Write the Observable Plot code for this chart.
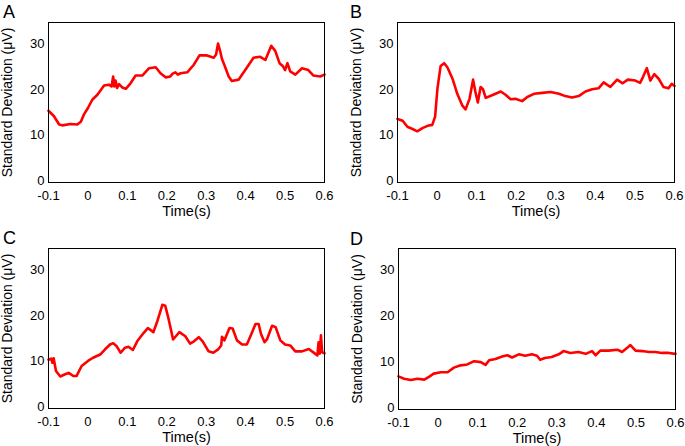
<!DOCTYPE html>
<html>
<head>
<meta charset="utf-8">
<script src="https://cdn.jsdelivr.net/npm/d3@7"></script>
<script src="https://cdn.jsdelivr.net/npm/@observablehq/plot@0.6"></script>
<style>
  html, body { margin: 0; padding: 0; background: #fff; }
  #wrap { position: relative; width: 685px; height: 446px; font-family: "Liberation Sans", Arial, sans-serif; }
  .panel { position: absolute; }
  .letter { position: absolute; font-size: 18px; line-height: 1; color: #000; }
  .panel svg g[aria-label="x-axis label"] { font-size: 14.5px; }
  .panel svg g[aria-label="y-axis label"] { font-size: 14px; }
</style>
</head>
<body>
<div id="wrap"></div>
<script>
// ---- data ----
const panelLetters = ["A", "B", "C", "D"];
const xTicks = [-0.1, 0, 0.1, 0.2, 0.3, 0.4, 0.5, 0.6];
const xTickLabels = ["-0.1", "0", "0.1", "0.2", "0.3", "0.4", "0.5", "0.6"];
const yTicks = [0, 10, 20, 30];
const yTickLabels = ["0", "10", "20", "30"];
const xLabel = "Time(s)";
const yLabel = "Standard Deviation (\u03bcV)";

const timeA = [-0.1,-0.086,-0.073,-0.065,-0.044,-0.027,-0.018,-0.01,0,0.011,0.024,0.041,0.053,0.06,0.064,0.067,0.07,0.074,0.079,0.087,0.096,0.108,0.121,0.138,0.155,0.172,0.184,0.197,0.209,0.215,0.222,0.228,0.235,0.252,0.268,0.283,0.302,0.319,0.325,0.33,0.336,0.34,0.346,0.357,0.365,0.382,0.399,0.42,0.437,0.45,0.465,0.475,0.486,0.494,0.5,0.506,0.513,0.526,0.543,0.559,0.572,0.589,0.6];
const sdA = [15.7,14.5,12.7,12.5,12.8,12.7,13.3,14.9,16.3,18.1,19.2,21.2,21.4,21.0,23.2,21.0,22.3,20.7,21.5,20.8,20.5,21.7,23.4,23.4,25.0,25.2,23.9,23.0,23.2,23.8,24.1,23.6,23.9,24.1,25.7,27.8,27.8,27.3,28.0,30.4,28.5,27.0,25.7,23.2,22.2,22.5,24.6,27.3,27.5,26.8,29.9,28.8,26.1,25.5,24.6,26.1,24.3,23.6,25.0,24.6,23.4,23.2,23.6];

const timeB = [-0.1,-0.087,-0.075,-0.062,-0.05,-0.037,-0.024,-0.012,-0.005,0.001,0.009,0.018,0.026,0.039,0.051,0.064,0.072,0.082,0.091,0.097,0.103,0.11,0.116,0.123,0.139,0.161,0.173,0.186,0.198,0.215,0.228,0.245,0.266,0.287,0.308,0.324,0.341,0.358,0.375,0.392,0.408,0.421,0.438,0.455,0.469,0.482,0.501,0.513,0.52,0.53,0.539,0.549,0.56,0.572,0.585,0.593,0.6];
const sdB = [13.9,13.5,12.2,11.7,11.2,11.9,12.4,12.6,14.4,20.6,25.5,26.1,25.2,22.7,19.4,16.8,16.0,18.3,22.5,19.8,17.5,20.9,20.4,18.5,19.1,19.9,19.2,18.2,18.3,17.8,18.7,19.4,19.6,19.8,19.4,18.9,18.6,18.9,19.9,20.4,20.6,21.9,20.9,22.5,21.7,22.5,22.3,21.8,23.0,25.0,22.3,23.7,22.7,20.9,20.6,21.6,21.1];

const timeC = [-0.1,-0.093,-0.09,-0.087,-0.081,-0.07,-0.058,-0.049,-0.037,-0.029,-0.016,0,0.013,0.031,0.043,0.056,0.064,0.073,0.083,0.094,0.103,0.114,0.125,0.141,0.152,0.166,0.176,0.189,0.196,0.204,0.216,0.223,0.232,0.247,0.259,0.269,0.281,0.291,0.306,0.318,0.331,0.338,0.34,0.346,0.359,0.367,0.378,0.391,0.403,0.414,0.425,0.433,0.439,0.448,0.454,0.467,0.476,0.488,0.5,0.513,0.526,0.543,0.56,0.576,0.582,0.585,0.588,0.591,0.594,0.6];
const sdC = [10.7,10.9,10.0,11.0,8.2,7.0,7.5,7.8,7.1,7.1,9.3,10.4,11.1,11.8,12.9,14.0,14.3,13.6,12.2,13.3,13.5,12.8,14.7,16.5,17.6,16.7,19.1,22.7,22.5,19.8,15.1,15.8,16.7,15.8,14.2,14.7,15.6,14.7,12.5,12.2,13.0,13.8,15.7,14.9,17.6,17.5,14.9,14.0,14.0,16.2,18.5,18.5,16.3,14.5,15.1,18.1,17.8,14.9,14.0,13.8,12.5,12.5,13.0,12.0,11.6,14.5,12.0,16.0,12.3,12.1];

const timeD = [-0.1,-0.086,-0.069,-0.052,-0.035,-0.023,-0.011,0.007,0.024,0.04,0.057,0.074,0.091,0.108,0.12,0.129,0.145,0.162,0.175,0.187,0.204,0.22,0.237,0.25,0.258,0.27,0.287,0.305,0.317,0.334,0.355,0.373,0.389,0.398,0.41,0.431,0.453,0.465,0.478,0.486,0.499,0.516,0.533,0.549,0.566,0.583,0.6];
const sdD = [7.2,6.7,6.4,6.7,6.5,7.1,7.8,8.1,8.1,9.1,9.6,9.8,10.5,10.3,9.7,10.7,11.0,11.5,11.8,11.3,12.0,11.7,12.0,11.7,10.8,11.2,11.4,12.0,12.7,12.3,12.5,12.1,12.7,11.8,12.8,12.8,13.0,12.5,13.4,14.0,12.8,12.7,12.5,12.5,12.3,12.3,12.1];

const times = [timeA, timeB, timeC, timeD];
const sds = [sdA, sdB, sdC, sdD];

// ---- layout ----
const layouts = [
  {left: 0,   top: 0,   width: 342, height: 224, mL: 48, mR: 18, mT: 22, mB: 42, lx: 3,   ly: 3},
  {left: 345, top: 0,   width: 340, height: 224, mL: 52, mR: 11, mT: 22, mB: 42, lx: 350, ly: 3},
  {left: 0,   top: 226, width: 342, height: 220, mL: 48, mR: 18, mT: 22, mB: 38, lx: 3,   ly: 229},
  {left: 345, top: 226, width: 340, height: 220, mL: 53, mR: 10, mT: 22, mB: 37, lx: 350, ly: 230}
];

const wrap = document.getElementById("wrap");
layouts.forEach((L, i) => {
  const data = times[i].map((t, j) => ({t, v: sds[i][j]}));
  const chart = Plot.plot({
    width: L.width,
    height: L.height,
    marginLeft: L.mL,
    marginRight: L.mR,
    marginTop: L.mT,
    marginBottom: L.mB,
    style: {fontFamily: '"Liberation Sans", Arial, sans-serif', fontSize: "13px", color: "#000", background: "#fff", overflow: "visible"},
    x: {domain: [-0.1, 0.6]},
    y: {domain: [0, 35]},
    marks: [
      Plot.axisX({ticks: xTicks, tickFormat: (d) => xTickLabels[xTicks.indexOf(d)], tickSize: 0, tickPadding: 8,
        label: xLabel, labelAnchor: "center", labelArrow: "none", labelOffset: 33}),
      Plot.axisY({ticks: yTicks, tickFormat: (d) => yTickLabels[yTicks.indexOf(d)], tickSize: 0, tickPadding: 4, dy: -1.5,
        label: yLabel, labelAnchor: "center", labelArrow: "none", labelOffset: 46}),
      Plot.line(data, {x: "t", y: "v", stroke: "#ff0000", strokeWidth: 2.6}),
      Plot.frame({stroke: "#000", strokeWidth: 1})
    ]
  });
  const div = document.createElement("div");
  div.className = "panel";
  div.style.left = L.left + "px";
  div.style.top = L.top + "px";
  div.appendChild(chart);
  wrap.appendChild(div);
  const lab = document.createElement("div");
  lab.className = "letter";
  lab.style.left = L.lx + "px";
  lab.style.top = L.ly + "px";
  lab.textContent = panelLetters[i];
  wrap.appendChild(lab);
});
</script>
</body>
</html>
